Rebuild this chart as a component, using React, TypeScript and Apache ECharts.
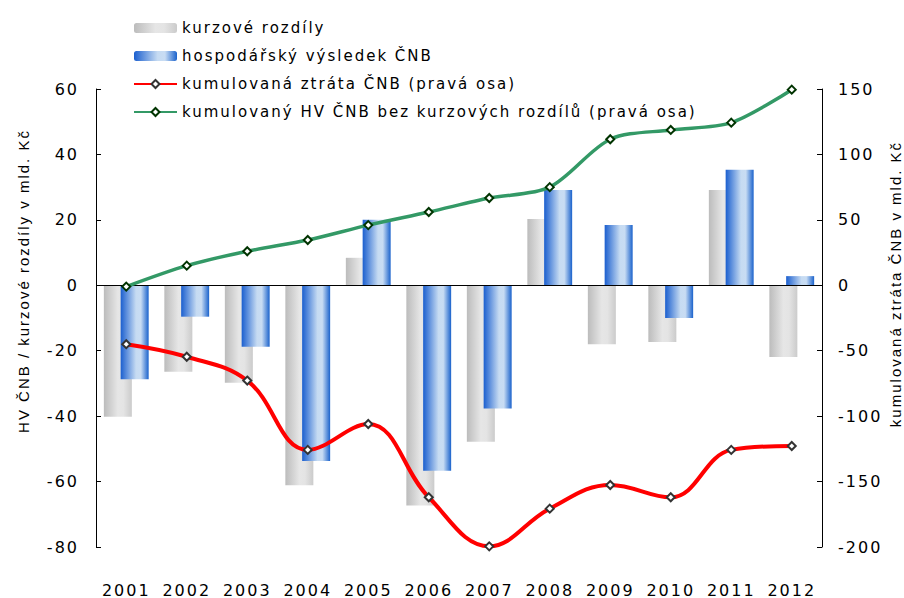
import React, { useEffect, useRef } from 'react';
import * as echarts from 'echarts';

const years = ['2001', '2002', '2003', '2004', '2005', '2006', '2007', '2008', '2009', '2010', '2011', '2012'];
const fxDiff = [-40.2, -26.4, -29.8, -61.1, 8.4, -67.3, -47.8, 20.3, -18.0, -17.3, 29.1, -21.9];
const profit = [-28.7, -9.6, -18.8, -53.7, 20.0, -56.7, -37.7, 29.1, 18.4, -10.0, 35.3, 2.8];
const cumLoss = [-45, -54.6, -72.8, -125.8, -106, -162, -199.5, -170.7, -152.6, -162, -125.8, -122.8];
const cumProfitExFx = [-1, 15, 26, 34.6, 46, 56, 66.7, 75, 111.6, 118.7, 124.3, 149.5];

const leftAxis = { min: -80, max: 60, interval: 20 };
const rightAxis = { min: -200, max: 150, interval: 50 };

const names = {
  fx: 'kurzové rozdíly',
  profit: 'hospodářský výsledek ČNB',
  loss: 'kumulovaná ztráta ČNB (pravá osa)',
  exfx: 'kumulovaný HV ČNB bez kurzových rozdílů (pravá osa)',
};
const leftTitle = 'HV ČNB / kurzové rozdíly v mld. Kč';
const rightTitle = 'kumulovaná ztráta ČNB v mld. Kč';

const TICK_FONT = '"DejaVu Sans", Verdana, sans-serif';
const TITLE_FONT = '"Liberation Sans", Arial, sans-serif';

export default function App() {
  const ref = useRef<HTMLDivElement>(null);
  useEffect(() => {
    if (!ref.current) return;
    const chart = echarts.init(ref.current, undefined, { renderer: 'svg' });
    const grey = new echarts.graphic.LinearGradient(0, 0, 1, 0, [
      { offset: 0, color: '#bcbcbc' },
      { offset: 0.5, color: '#e6e6e6' },
      { offset: 0.7, color: '#e4e4e4' },
      { offset: 1, color: '#cbcbcb' },
    ]);
    const blue = new echarts.graphic.LinearGradient(0, 0, 1, 0, [
      { offset: 0, color: '#1b5fcf' },
      { offset: 0.55, color: '#c6dbf2' },
      { offset: 0.72, color: '#c8dcf3' },
      { offset: 1, color: '#1a62cc' },
    ]);
    chart.setOption({
      animation: false,
      textStyle: { fontFamily: TICK_FONT },
      grid: { left: 96, right: 82, top: 89, height: 458 },
      legend: {
        orient: 'vertical',
        left: 128,
        top: 15,
        itemWidth: 43,
        itemHeight: 10,
        itemGap: 12,
        selectedMode: false,
        textStyle: { fontFamily: TICK_FONT, fontSize: 15, color: '#000', lineHeight: 16 },
        data: [names.fx, names.profit, names.loss, names.exfx],
      },
      xAxis: {
        type: 'category',
        data: years,
        position: 'bottom',
        axisLine: { show: false, onZero: false },
        axisTick: { show: false },
        axisLabel: { interval: 0, margin: 35, fontSize: 16, color: '#000', fontFamily: TICK_FONT },
        splitLine: { show: false },
      },
      yAxis: [
        {
          type: 'value',
          position: 'left',
          min: leftAxis.min,
          max: leftAxis.max,
          interval: leftAxis.interval,
          axisLine: { show: true, lineStyle: { color: '#000', width: 1 } },
          axisTick: { show: true, inside: true, length: 5, lineStyle: { color: '#000' } },
          axisLabel: { margin: 17, fontSize: 16, color: '#000', fontFamily: TICK_FONT },
          splitLine: { show: false },
        },
        {
          type: 'value',
          position: 'right',
          min: rightAxis.min,
          max: rightAxis.max,
          interval: rightAxis.interval,
          axisLine: { show: true, lineStyle: { color: '#000', width: 1 } },
          axisTick: { show: true, inside: true, length: 5, lineStyle: { color: '#000' } },
          axisLabel: { margin: 16, fontSize: 16, color: '#000', fontFamily: TICK_FONT },
          splitLine: { show: false },
        },
      ],
      graphic: [
        {
          type: 'text',
          x: 23,
          y: 281,
          rotation: Math.PI / 2,
          style: {
            text: leftTitle,
            font: '15px ' + TITLE_FONT,
            fill: '#000',
            align: 'center',
            verticalAlign: 'middle',
            textAlign: 'center',
            textVerticalAlign: 'middle',
          },
        },
        {
          type: 'text',
          x: 895,
          y: 284,
          rotation: Math.PI / 2,
          style: {
            text: rightTitle,
            font: '15px ' + TITLE_FONT,
            fill: '#000',
            align: 'center',
            verticalAlign: 'middle',
            textAlign: 'center',
            textVerticalAlign: 'middle',
          },
        },
      ],
      series: [
        {
          name: names.fx,
          type: 'bar',
          data: fxDiff,
          barWidth: 28,
          barGap: '-40%',
          itemStyle: { color: grey },
          emphasis: { disabled: true },
          z: 2,
          markLine: {
            silent: true,
            symbol: 'none',
            label: { show: false },
            lineStyle: { color: '#000', width: 1, type: 'solid' },
            data: [{ yAxis: 0 }],
          },
        },
        {
          name: names.profit,
          type: 'bar',
          data: profit,
          barWidth: 28,
          barGap: '-40%',
          itemStyle: { color: blue },
          emphasis: { disabled: true },
          z: 3,
        },
        {
          name: names.loss,
          type: 'line',
          yAxisIndex: 1,
          data: cumLoss,
          smooth: 0.4,
          symbol: 'diamond',
          symbolSize: 8,
          lineStyle: { color: '#ff0000', width: 4 },
          itemStyle: { color: '#ffffff', borderColor: '#333333', borderWidth: 2 },
          emphasis: { disabled: true },
          z: 5,
        },
        {
          name: names.exfx,
          type: 'line',
          yAxisIndex: 1,
          data: cumProfitExFx,
          smooth: 0.3,
          symbol: 'diamond',
          symbolSize: 8,
          lineStyle: { color: '#339966', width: 3.5 },
          itemStyle: { color: '#ffffff', borderColor: '#003300', borderWidth: 2 },
          emphasis: { disabled: true },
          z: 6,
        },
      ],
    });
    return () => chart.dispose();
  }, []);
  return (
    <div
      ref={ref}
      style={{ position: 'fixed', left: 0, top: 0, width: 904, height: 598, letterSpacing: '2px', background: '#fff' }}
    />
  );
}
